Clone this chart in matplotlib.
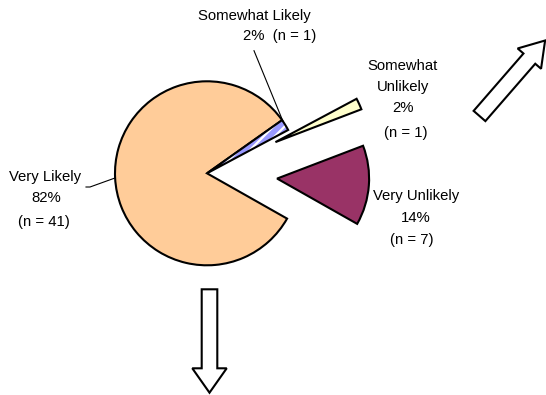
import matplotlib
matplotlib.use("Agg")
import matplotlib.pyplot as plt
from matplotlib.patches import Wedge, FancyArrow

plt.rcParams['font.family'] = ['Liberation Sans', 'DejaVu Sans']
plt.rcParams['hatch.linewidth'] = 1.6

# data, clockwise from the gap
labels = ["Very Likely", "Somewhat Likely", "Somewhat Unlikely", "Very Unlikely"]
counts = [41, 1, 1, 7]
pcts = ["82%", "2%", "2%", "14%"]
colors = ["#FFCC99", "#9999FF", "#FFFFCC", "#993366"]
explode = [0, 0, 75.2, 70.3]  # pixel offsets

H = 395  # work in pixel units, y flipped
fig = plt.figure(figsize=(5.46, 3.95), dpi=100)
ax = fig.add_axes([0, 0, 1, 1])

cx, cy, r = 207, H - 173.3, 92
wedges, _ = ax.pie(counts, colors=colors, explode=explode, startangle=-29.5,
                   counterclock=False, center=(cx, cy), radius=r,
                   wedgeprops=dict(edgecolor="black", linewidth=1.5))

# hatched lavender slice: white stripes, black outline on top
w = wedges[1]
w.set_edgecolor("white")
w.set_linewidth(0.5)
w.set_hatch("///")
ax.add_patch(Wedge(w.center, w.r, w.theta1, w.theta2, facecolor="none",
                   edgecolor="black", linewidth=1.5, zorder=w.get_zorder() + 0.1))

ax.set_xlim(0, 546)
ax.set_ylim(0, H)
ax.set_aspect("equal")
ax.axis("off")

fs = 10.7
def txt(x, y, s):
    ax.text(x, H - y, s, ha="center", va="center", fontsize=fs)

# labels
txt(254, 16, labels[1])
txt(280, 36, pcts[1] + "  (n = %d)" % counts[1])
ax.plot([254, 282.7], [H - 50.7, H - 120.7], color="black", lw=0.8)

txt(402.5, 66, "Somewhat")
txt(403, 87, "Unlikely")
txt(402.7, 108, pcts[2])
txt(406, 133, "(n = %d)" % counts[2])

txt(416, 196, labels[3])
txt(416, 218, pcts[3])
txt(412, 240, "(n = %d)" % counts[3])

txt(45.5, 177, labels[0])
txt(46, 198, pcts[0])
txt(44, 222, "(n = %d)" % counts[0])
ax.plot([86, 90, 115], [H - 187, H - 187, H - 178], color="black", lw=0.8)

# block arrows
ax.add_patch(FancyArrow(479.5, H - 116, 65.6, 75.5, width=15.6, head_width=31,
                        head_length=24, length_includes_head=True,
                        fc="white", ec="black", lw=1.5))
ax.add_patch(FancyArrow(209.5, H - 289.3, 0, -103.4, width=15.6, head_width=34.4,
                        head_length=24.4, length_includes_head=True,
                        fc="white", ec="black", lw=1.5))

fig.savefig("out.png", dpi=100, facecolor="white")
